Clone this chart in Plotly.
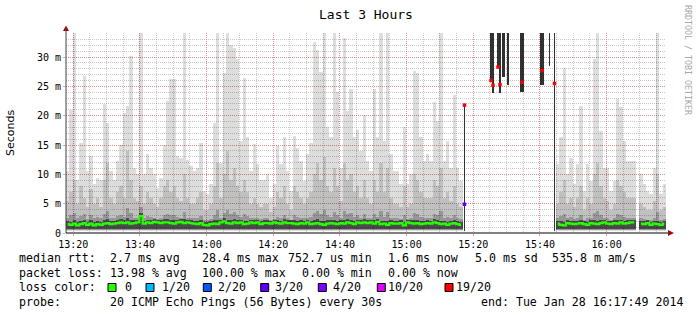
import plotly.graph_objects as go
import pandas as pd

# ---------------- data (ms) ----------------
START = "2014-01-28 13:18:19"   # centre of first 60 s sample
STEP_S = 60
RANGE_START = "2014-01-28 13:17:49"
RANGE_END = "2014-01-28 16:17:49"
MIN_RTT = 0.35

ping_max = ([10.6, 21, 35, 9, 15.4, 26.8, 10.6, 13.1, 8.3, 9.4, 9, 22, 18.8, 10.6, 9,
             12.3, 15, 20.4, 21.7, 30.2, 11.1, 10, 35, 10, 13.4, 11, 10, 7.7, 9.4, 15]
            + [22.5, 26.3, 26.3, 13.1, 12.8, 35, 12.5, 11.5, 10.6, 11, 15.4, 7.2, 6.6, 8.3, 18.8,
               35, 12, 27.3, 35, 32.1, 31.6, 29.6, 15.7, 26.5, 16.3, 10.6, 15.1, 11.7, 9, 9]
            + [10, 6, 8.3, 14.8, 11.7, 16.3, 10.6, 7.2, 16.5, 14.5, 12.3, 8.9, 13.4, 15.4, 32.6,
               31.2, 27.5, 35, 18, 16.3, 35, 24, 11.1, 33.3, 20.8, 24.6, 16.3, 17.5, 14, 20.2]
            + [12.3, 10.6, 24.6, 16.3, 35, 15.7, 35, 13.4, 10.6, 10.6, 8.3, 18, 8.3, 10, 27.6,
               27.3, 16.3, 12.3, 13.4, 12.3, 22.4, 19.1, 35, 12.3, 15.7, 11.1, 23.6, 11.1, 8.9]
            + [None] * 28
            + [11.7, 16.3, 28.1]
            + [10, 12.8, 8.3, 11.7, 21.6, 7.2, 11.7, 8.9, 29.6, 35, 17.4, 11.1, 11.1, 7.2, 8.9,
               22.8, 21.4, 15.7, 12.3, 12.3, 12.3, None, 10, 8.3, 7.2, 6.6, 11.1, 35, 6.6, 8.3])

ping_q3 = ([5.5, 7, 9, 5, 8, 6, 4.5, 7.5, 5, 6, 4.5, 9, 12, 6, 5, 7, 8, 6, 14, 9, 6, 5.5, 8, 5, 7, 6, 5, 4.5, 6, 8]
           + [9, 7, 8, 6, 5.5, 10, 6, 5, 5, 6, 7, 4, 4, 5, 8, 12, 6, 10, 14, 9, 11, 8, 7, 9, 7, 5, 6, 5, 4.5, 5]
           + [5, 3.5, 4.5, 7, 6, 8, 5, 4, 8, 7, 6, 5, 6, 7, 10, 12, 9, 13, 8, 7, 11, 8, 5.5, 12, 9, 10, 7, 8, 6, 9]
           + [6, 5, 9, 7, 12, 7, 11, 6, 5, 5, 4.5, 8, 4.5, 5, 10, 9, 7, 6, 6, 6, 9, 8, 11, 6, 7, 5.5, 8, 5, 4.5]
           + [None] * 28
           + [5, 7, 9]
           + [5, 6, 4.5, 6, 8, 4, 6, 5, 10, 12, 8, 6, 5.5, 4, 5, 9, 8, 7, 6, 6, 6, None, 5, 4.5, 4, 4, 5.5, 10, 4, 4.5])

ping_q2 = ([2.6, 3.0, 3.4, 2.5, 2.9, 3.2, 2.4, 3.0, 2.6, 2.7, 2.5, 3.3, 3.8, 2.6, 2.5,
            2.9, 3.1, 2.7, 4.2, 3.4, 2.6, 2.5, 4.5, 2.5, 2.9, 2.7, 2.5, 2.4, 2.6, 3.0]
           + [3.2, 3.0, 3.1, 2.7, 2.6, 3.6, 2.6, 2.5, 2.5, 2.6, 2.9, 2.3, 2.3, 2.4, 3.1,
              3.9, 2.6, 3.4, 4.0, 3.2, 3.5, 3.1, 2.8, 3.2, 2.9, 2.5, 2.6, 2.5, 2.4, 2.5]
           + [2.5, 2.2, 2.4, 2.8, 2.6, 3.0, 2.5, 2.3, 3.0, 2.8, 2.6, 2.5, 2.6, 2.8, 3.4,
              3.7, 3.2, 3.9, 3.0, 2.8, 3.5, 3.1, 2.6, 3.8, 3.2, 3.4, 2.8, 3.0, 2.6, 3.2]
           + [2.6, 2.5, 3.2, 2.8, 3.8, 2.8, 3.6, 2.6, 2.5, 2.5, 2.4, 3.0, 2.4, 2.5, 3.4,
              3.3, 2.8, 2.6, 2.6, 2.6, 3.2, 3.0, 3.7, 2.6, 2.8, 2.5, 3.1, 2.5, 2.4]
           + [None] * 28
           + [2.6, 2.9, 3.3]
           + [2.5, 2.7, 2.4, 2.6, 3.1, 2.3, 2.6, 2.5, 3.4, 3.8, 3.0, 2.6, 2.5, 2.3, 2.5,
              3.2, 3.1, 2.8, 2.6, 2.6, 2.6, None, 2.5, 2.4, 2.3, 2.3, 2.5, 3.6, 2.3, 2.4])

ping_q1 = ([2.0, 1.9, 2.2, 1.8, 2.0, 2.3, 1.9, 2.2, 1.8, 2.0, 1.9, 2.2, 2.4, 2.0, 2.1,
            2.2, 2.4, 2.2, 2.5, 2.2, 2.2, 2.3, 3.4, 2.1, 2.3, 2.2, 2.4, 2.3, 2.2, 2.4]
           + [2.4, 2.2, 2.2, 2.3, 2.4, 2.4, 2.3, 2.2, 2.1, 2.0, 2.2, 1.9, 1.8, 2.0, 2.2,
              2.2, 2.3, 2.6, 2.3, 2.2, 2.4, 2.3, 2.3, 2.1, 2.1, 2.3, 2.2, 2.3, 2.0, 2.2]
           + [2.2, 2.1, 2.3, 2.2, 2.1, 2.4, 2.2, 2.2, 2.2, 2.0, 2.2, 2.1, 2.3, 2.0, 2.3,
              2.4, 2.1, 2.0, 2.2, 2.2, 2.2, 2.1, 2.2, 2.3, 2.4, 2.3, 2.0, 2.3, 2.2, 2.4]
           + [2.2, 2.3, 2.2, 2.4, 2.1, 2.1, 2.0, 2.2, 2.1, 2.1, 2.2, 1.9, 2.3, 2.2, 2.2,
              2.3, 2.0, 2.1, 2.2, 2.1, 2.4, 2.2, 2.1, 2.1, 1.9, 2.1, 2.3, 2.0, 1.9]
           + [None] * 28
           + [2.1, 2.0, 1.9]
           + [2.2, 2.1, 2.0, 2.1, 2.3, 2.0, 1.9, 2.2, 2.2, 2.1, 2.2, 2.3, 2.1, 2.0, 2.2,
              2.2, 2.3, 2.1, 2.2, 2.3, 2.3, None, 2.1, 2.0, 2.2, 1.9, 2.1, 2.1, 1.9, 2.1])

median = ([1.5, 1.4, 1.6, 1.3, 1.5, 1.7, 1.4, 1.6, 1.3, 1.5, 1.4, 1.6, 1.7, 1.5, 1.6,
           1.7, 1.8, 1.7, 1.8, 1.6, 1.7, 1.8, 2.9, 1.6, 1.8, 1.7, 1.9, 1.8, 1.7, 1.8]
          + [1.8, 1.7, 1.6, 1.8, 1.9, 1.7, 1.8, 1.7, 1.6, 1.5, 1.7, 1.4, 1.3, 1.5, 1.6,
             1.5, 1.8, 2.0, 1.7, 1.6, 1.8, 1.7, 1.8, 1.5, 1.6, 1.8, 1.7, 1.8, 1.5, 1.7]
          + [1.7, 1.6, 1.8, 1.7, 1.6, 1.8, 1.7, 1.7, 1.6, 1.5, 1.7, 1.6, 1.8, 1.5, 1.6,
             1.7, 1.5, 1.4, 1.6, 1.7, 1.6, 1.5, 1.7, 1.6, 1.8, 1.7, 1.5, 1.8, 1.7, 1.8]
          + [1.7, 1.8, 1.6, 1.9, 1.5, 1.6, 1.4, 1.7, 1.6, 1.6, 1.7, 1.3, 1.8, 1.7, 1.6,
             1.7, 1.5, 1.6, 1.7, 1.6, 1.8, 1.7, 1.5, 1.6, 1.4, 1.6, 1.7, 1.5, 1.4]
          + [None] * 28
          + [1.6, 1.4, 1.3]
          + [1.7, 1.6, 1.5, 1.6, 1.7, 1.5, 1.4, 1.7, 1.6, 1.5, 1.7, 1.8, 1.6, 1.5, 1.7,
             1.6, 1.8, 1.6, 1.7, 1.8, 1.8, None, 1.6, 1.5, 1.7, 1.4, 1.6, 1.5, 1.4, 1.6])

# samples during the outage (mostly lost pings, few very late replies)
burst_time = ["15:17:22", "15:25:19", "15:25:55", "15:27:25", "15:28:01", "15:28:55",
              "15:30:25", "15:34:37", "15:40:37", "15:42:43", "15:44:22"]
burst_dur_s = [18, 36, 36, 36, 36, 54, 36, 72, 72, 18, 18]
burst_lo = [0.4, 26.0, 23.9, 28.3, 23.9, 26.6, 25.2, 24.1, 25.2, 28.4, 0.4]
burst_hi = [21.8, 36, 36, 36, 36, 36, 36, 36, 36, 36, 36]

lossy_time = ["15:17:22", "15:17:22", "15:25:19", "15:25:55", "15:27:25", "15:28:01",
              "15:34:37", "15:40:37", "15:44:22"]
lossy_median = [4.9, 21.8, 26.0, 25.2, 28.3, 25.3, 25.7, 27.7, 25.5]
lossy_loss = ["3/20", "19/20", "19/20", "19/20", "19/20", "19/20", "19/20", "19/20", "19/20"]

loss_labels = ["0", "1/20", "2/20", "3/20", "4/20", "10/20", "19/20"]
loss_colors = ["#26ff00", "#00b8ff", "#0059ff", "#5e00ff", "#7e00ff", "#dd00ff", "#ff0000"]

y_ticks = [0, 5, 10, 15, 20, 25, 30]
y_ticktext = ["0", "5 m", "10 m", "15 m", "20 m", "25 m", "30 m"]
x_ticks = ["13:20", "13:40", "14:00", "14:20", "14:40", "15:00", "15:20", "15:40", "16:00"]

legend_rows = [
    [("median rtt:", 17), ("2.7 ms avg", 107.5), ("28.4 ms max", 200), ("752.7 us min", 286),
     ("1.6 ms now", 386), ("5.0 ms sd", 472.5), ("535.8 m am/s", 550)],
    [("packet loss:", 17), ("13.98 % avg", 107.5), ("100.00 % max", 200), ("0.00 % min", 300),
     ("0.00 % now", 386)],
    [("loss color:", 17)],
    [("probe:", 17), ("20 ICMP Echo Pings (56 Bytes) every 30s", 107.5),
     ("end: Tue Jan 28 16:17:49 2014", 479)],
]

# ---------------- figure ----------------
W, H = 697, 315
L, R, T, B = 66, 31, 33, 82
PW, PH = W - L - R, H - T - B


def px(x):
    return (x - L) / PW


def py(y):
    return (H - B - y) / PH


times = pd.date_range(START, periods=len(ping_max), freq=f"{STEP_S}s")
day = "2014-01-28 "


def band(top, base):
    return [None if v is None else v - base for v in top]


fig = go.Figure()
layers = [(ping_max, MIN_RTT, "rgba(0,0,0,0.135)"),
          (ping_q3, MIN_RTT + 0.1, "rgba(0,0,0,0.13)"),
          (ping_q2, MIN_RTT + 0.2, "rgba(0,0,0,0.22)"),
          (ping_q1, MIN_RTT + 0.35, "rgba(0,0,0,0.5)")]
for top, base, col in layers:
    fig.add_trace(go.Bar(x=times, y=band(top, base), base=base, width=STEP_S * 1000,
                         marker=dict(color=col, line=dict(width=0)), hoverinfo="skip"))

bt = pd.to_datetime([day + t for t in burst_time])
fig.add_trace(go.Bar(x=bt, y=[h - l for h, l in zip(burst_hi, burst_lo)], base=burst_lo,
                     width=[d * 1000 for d in burst_dur_s],
                     marker=dict(color="rgba(20,20,20,0.88)", line=dict(width=0)), hoverinfo="skip"))

fig.add_trace(go.Scatter(x=times, y=median, mode="lines",
                         line=dict(color=loss_colors[0], width=2.2, shape="hvh"), hoverinfo="skip"))
lt = pd.to_datetime([day + t for t in lossy_time])
fig.add_trace(go.Scatter(x=lt, y=lossy_median, mode="markers",
                         marker=dict(symbol="square", size=3.5,
                                     color=[loss_colors[loss_labels.index(l)] for l in lossy_loss],
                                     line=dict(width=0)),
                         hoverinfo="skip"))

mono = "DejaVu Sans Mono"
fig.update_layout(
    width=W, height=H, margin=dict(l=L, r=R, t=T, b=B),
    paper_bgcolor="white", plot_bgcolor="white", showlegend=False,
    barmode="overlay", bargap=0,
    font=dict(family=mono, size=10, color="black"),
)
fig.update_xaxes(
    type="date", range=[RANGE_START, RANGE_END],
    tickmode="array", tickvals=[day + t for t in x_ticks], ticktext=x_ticks,
    tickfont=dict(family=mono, size=10),
    showgrid=True, gridcolor="rgba(235,80,80,0.45)", griddash="1px,1px", gridwidth=1,
    minor=dict(dtick=300000, tick0=day + "13:20", showgrid=True,
               gridcolor="rgba(120,120,120,0.4)", griddash="1px,1px", gridwidth=1),
    ticks="outside", ticklen=2, tickcolor="rgba(235,80,80,0.6)",
    showline=False, zeroline=False,
)
fig.update_yaxes(
    range=[0, 34.1], tickmode="array", tickvals=y_ticks, ticktext=y_ticktext,
    tickfont=dict(family=mono, size=10),
    showgrid=True, gridcolor="rgba(235,80,80,0.45)", griddash="1px,1px", gridwidth=1,
    minor=dict(dtick=1, tick0=0, showgrid=True,
               gridcolor="rgba(120,120,120,0.4)", griddash="1px,1px", gridwidth=1),
    ticks="outside", ticklen=2, tickcolor="rgba(235,80,80,0.6)",
    showline=False, zeroline=False,
)

shapes = []
# axes with arrow heads
shapes.append(dict(type="line", xref="paper", yref="paper", x0=0, y0=0, x1=0, y1=py(28),
                   line=dict(color="#404040", width=1)))
shapes.append(dict(type="line", xref="paper", yref="paper", x0=0, y0=0, x1=px(672), y1=0,
                   line=dict(color="black", width=1)))
shapes.append(dict(type="path", xref="paper", yref="paper",
                   path=f"M {px(66)},{py(25.5)} L {px(63)},{py(31)} L {px(69)},{py(31)} Z",
                   fillcolor="#9a1010", line=dict(width=0)))
shapes.append(dict(type="path", xref="paper", yref="paper",
                   path=f"M {px(674)},{py(233)} L {px(668)},{py(230)} L {px(668)},{py(236)} Z",
                   fillcolor="#9a1010", line=dict(width=0)))

annotations = []
annotations.append(dict(text="Last 3 Hours", x=px(366), y=py(14), xref="paper", yref="paper",
                        xanchor="center", yanchor="middle",
                        showarrow=False, font=dict(family=mono, size=13, color="black")))
annotations.append(dict(text="Seconds", x=px(10), y=py(133), xref="paper", yref="paper",
                        xanchor="center", yanchor="middle",
                        showarrow=False, textangle=-90, font=dict(family="DejaVu Sans", size=11, color="black")))
annotations.append(dict(text="RRDTOOL / TOBI OETIKER", x=px(688), y=py(60), xref="paper", yref="paper",
                        xanchor="center", yanchor="middle",
                        showarrow=False, textangle=90, font=dict(family=mono, size=8.3, color="#a8a8a8")))

LEG_FONT = 11.6
row_y = [258, 272.5, 287, 301.5]
for row, yy in zip(legend_rows, row_y):
    for text, xx in row:
        annotations.append(dict(text=text, x=px(xx), y=py(yy), xref="paper", yref="paper",
                                xanchor="left", yanchor="middle", showarrow=False,
                                font=dict(family=mono, size=LEG_FONT, color="black")))

sq_x = [108, 146, 203.3, 260.7, 318.3, 377.3, 445]
txt_x = [122.5, 159.5, 216, 273.3, 331, 386, 454]
for lab, col, sx, tx in zip(loss_labels, loss_colors, sq_x, txt_x):
    shapes.append(dict(type="rect", xref="paper", yref="paper", x0=px(sx), x1=px(sx + 8),
                       y0=py(291.5), y1=py(283.5), fillcolor=col, line=dict(color="black", width=1)))
    annotations.append(dict(text=lab, x=px(tx), y=py(287), xref="paper", yref="paper",
                            xanchor="left", yanchor="middle", showarrow=False,
                            font=dict(family=mono, size=LEG_FONT, color="black")))

fig.update_layout(shapes=shapes, annotations=annotations)
fig.write_html("out.html")
